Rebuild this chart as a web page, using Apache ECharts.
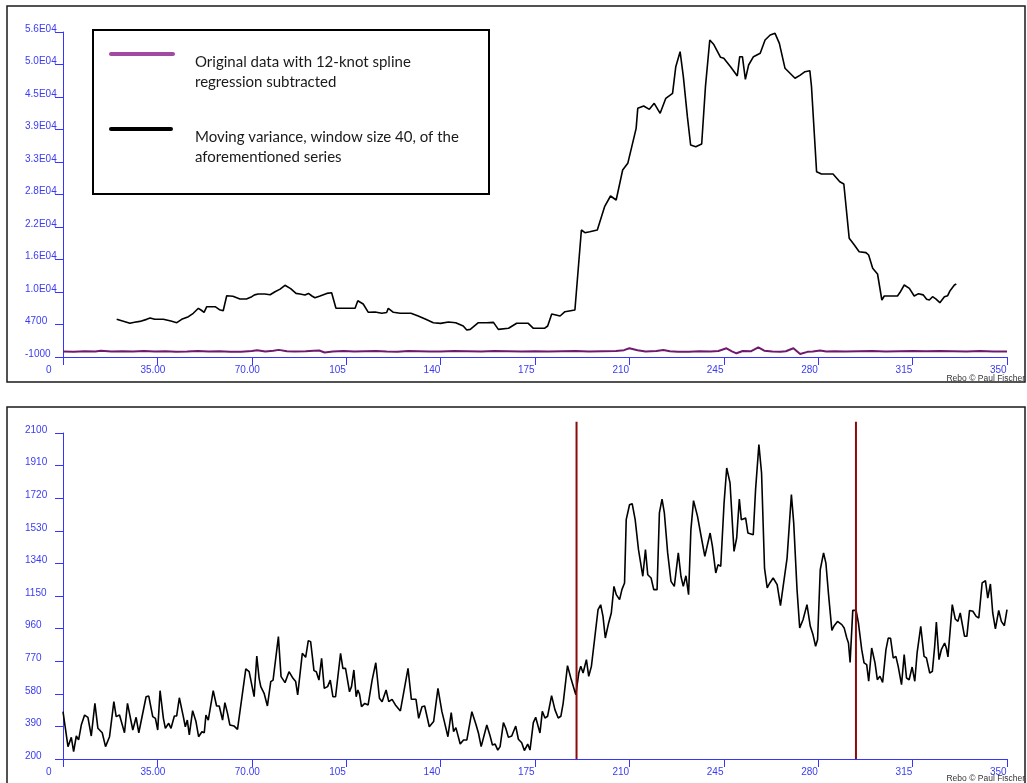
<!DOCTYPE html>
<html><head><meta charset="utf-8">
<script src="https://cdn.jsdelivr.net/npm/echarts@6/dist/echarts.min.js"></script>
<style>html,body{margin:0;padding:0;background:#fff}#c{width:1027px;height:783px}</style>
</head><body><div id="c"></div>
<script>
// ---- tick labels ----
const xTickLabels = ['0','35.00','70.00','105','140','175','210','245','280','315','350'];
const topYTickLabels = ['-1000','4700','1.0E04','1.6E04','2.2E04','2.8E04','3.3E04','3.9E04','4.5E04','5.0E04','5.6E04'];
const bottomYTickLabels = ['200','390','580','770','960','1150','1340','1530','1720','1910','2100'];

// ---- top chart: residual series (original data with 12-knot spline regression subtracted) ----
const resX = [0,4,8,12,14,18,22,26,30,34,38,42,46,50,54,58,62,66,70,72,75,78,80,83,86,90,93,95,97,100,104,108,112,116,120,124,128,132,136,140,145,150,155,160,165,170,175,180,185,190,195,200,205,208,210,213,216,220,222.6,225,228,232,236,240,243,246,248,249.7,252,255,257.8,260,263,266,268,270.8,273.3,276,278,280.7,283,286,290,295,300,305,310,315,320,325,330,335,340,345,350];
const resY = [-50,-100,0,-50,100,-50,0,-50,50,-50,0,-100,-50,50,-50,0,-100,-100,50,200,-50,100,250,0,-50,0,100,150,-200,-50,50,-50,0,50,-50,-100,50,0,-50,-50,50,0,-50,50,0,-50,0,-50,0,50,-50,0,50,200,526,200,-50,50,228,0,-100,-100,0,-50,50,526,0,-350,50,0,700,100,-50,-100,0,526,-474,-100,-50,150,-50,0,-50,0,50,-50,0,50,0,50,0,-50,50,-50,-50];

// ---- top chart: moving variance, window 40 ----
const varX = [19.9,23,24.8,26.5,28.5,31,32.3,34,37.2,40,42.2,44,46.5,48.3,50.2,51.3,52.3,53.3,56.4,58,59.4,60.7,63,65.6,68,70,71,72.4,74.8,76.8,78.6,80.5,82.3,84.4,86.4,87.9,89.7,91,92.3,93.4,95.3,97.8,99.6,101.2,108.3,109.3,111.3,113.2,115.7,118.2,120,120.6,122.5,125,129,131.7,134.5,137.3,140,142.9,145.6,148.4,149.7,151,154,157,159.6,161.4,165.2,168.2,172.5,174.4,178.5,179.7,181.2,184.3,186.1,189.8,192.2,193.5,195.3,198.1,200.8,203,205.1,207.5,209.4,212.5,213.1,215.3,217.4,219.2,221.4,223.5,226,227.2,228.8,230,231.5,232.7,234.6,236.8,238.2,239.8,241.3,243.8,245,247.5,250,250.9,251.9,253,254.2,256,258.5,260.3,262.2,264,265.6,267.7,271.4,273.2,275.1,276.9,277.5,279.4,281.2,285.5,288,289.5,291.5,293.4,295.2,297.7,298.7,300.2,302,303.6,304.5,309.4,310.3,311.9,313.8,315.6,317.2,318.9,320.2,321.2,322.4,323.6,325.1,326.8,328,328.9,330.5,331.2];
const varY = [5612,5191,4910,5100,5244,5600,5840,5612,5612,5300,5016,5612,6068,6664,7541,7200,6839,7822,7822,7300,7120,9751,9650,9172,9172,9576,9900,10049,10049,9927,10452,10900,11575,11000,10154,10049,9874,10154,9700,9400,9700,10154,10277,7541,7541,8874,8300,6839,6900,6664,6800,7541,6839,6664,6664,6191,5612,5016,4900,5139,5016,4437,3735,3840,5016,5016,5068,3840,4033,4910,4910,4033,4033,4437,6542,6191,6946,7243,21273,20800,20980,21273,25362,27236,26535,31796,32966,39105,42613,43020,42438,43490,41737,44369,45246,49920,52550,48166,41152,36181,35888,36357,46414,54596,53800,51564,51400,49920,48283,51670,51670,47703,50213,51670,52263,54596,55473,55770,54016,49633,47880,48400,49036,49212,46500,31497,31094,31094,29744,29341,19817,18642,17473,17300,16888,14556,13556,8996,9698,9698,10300,11627,11042,9698,10107,9900,9120,9000,9575,9200,8523,9575,9750,10628,11627,11800];

// ---- bottom chart: original series ----
const dataX = [0,1.85,3.08,3.94,4.93,5.79,6.78,8.01,9.24,10.48,11.09,11.83,12.94,14.54,15.77,17.25,18.86,19.72,20.95,22.8,23.91,25.88,27.11,28.1,30.81,31.8,33.27,34.26,35.12,35.99,37.22,37.96,39.19,40.05,41.29,42.15,43.13,44.61,45.35,46.09,46.83,48.06,49.3,50.28,51.51,52.38,52.99,53.86,55.7,56.94,57.92,59.16,60.02,61,61.87,63.47,64.7,67.78,69.01,70.86,71.85,72.71,73.33,74.56,75.79,77.03,77.89,79.86,80.85,82.32,83.8,85.28,86.27,87.01,87.75,88.73,89.97,90.95,91.81,93.05,93.91,94.89,95.88,96.87,98.1,99.09,100.07,101.06,102.91,103.77,104.75,106.23,106.97,107.84,108.7,109.31,109.93,110.67,111.9,113.13,114.61,115.97,117.32,118.31,119.79,120.78,122.01,123.24,125.09,127.92,129.16,130.88,131.87,133.1,134.09,135.81,137.41,139.02,140.49,141.48,142.71,143.94,144.81,145.67,147.27,148.5,149.74,151.59,153.06,154.05,155.04,157.13,158.36,159.22,160.21,161.2,162.06,163.29,164.16,165.14,166.37,167.85,168.84,170.07,171.06,172.29,173.15,174.38,175.25,
175.98,176.84,177.71,178.69,179.67,181.15,182.38,183.61,184.59,185.45,187.05,188.28,190.13,191.23,191.97,192.83,194.06,194.92,195.91,197.14,198.37,199.35,200.21,201.07,202.3,203.29,204.27,205.13,206.36,207.22,208.2,208.82,210.05,211.03,212.14,213.37,214.97,215.95,216.81,218.04,219.03,220.26,221.12,222.1,222.96,224.19,225.42,226.65,228.13,229.11,229.97,230.96,231.94,232.8,233.78,235.26,236.49,237.97,239.93,240.79,242.02,242.88,243.87,245.1,246.08,247.31,248.79,249.77,250.76,251.49,252.23,253.09,253.95,255.92,256.78,258.01,259,260.1,261.09,262.07,263.3,264.78,266.01,266.74,268.46,270.06,270.92,272.15,273.14,274.37,274.98,275.84,277.07,278.06,279.04,279.78,280.76,281.99,282.85,283.84,285.07,285.93,287.16,288.76,289.62,290.6,291.22,291.83,292.82,294.05,294.91,296.14,297,297.98,298.72,299.83,301.06,301.92,302.9,303.89,305.12,305.97,306.83,307.82,308.8,309.66,310.89,311.88,312.74,313.72,314.83,315.81,316.67,318.02,319.25,320.12,321.35,322.33,323.19,323.81,324.79,325.65,326.88,327.5,328.11,329.71,330.82,331.8,332.66,334.26,335.12,336.11,337.34,338.57,339.55,340.78,342.01,342.87,343.85,344.71,345.7,346.93,347.91,349.02,350];
const dataY = [476,272,326,243,334,311,398,456,443,334,326,524,379,353,272,330,534,447,456,353,524,369,443,353,563,567,447,437,369,598,437,379,408,379,451,451,557,447,388,427,340,482,418,330,359,353,456,427,598,509,509,427,528,466,398,392,373,725,709,563,800,670,622,583,509,651,660,913,680,645,709,670,651,573,583,816,793,890,884,715,709,660,787,612,622,660,563,563,816,728,728,592,622,719,563,602,579,505,524,515,660,761,554,534,602,534,548,515,480,728,548,548,437,505,509,388,418,612,476,412,330,470,359,383,287,311,311,476,404,350,272,398,334,282,287,252,272,412,379,326,334,392,315,295,249,287,252,412,443,
449,352,478,439,449,569,488,439,449,526,744,672,575,701,740,701,779,682,740,905,1070,1099,1031,905,993,1051,1206,1158,1129,1187,1226,1595,1682,1688,1595,1420,1265,1420,1274,1255,1187,1187,1634,1715,1634,1401,1235,1206,1401,1265,1206,1268,1158,1537,1706,1614,1507,1381,1517,1439,1284,1333,1323,1692,1896,1809,1410,1488,1715,1595,1599,1605,1517,1507,1770,2032,1867,1313,1197,1226,1255,1216,1094,1090,1371,1741,1576,1187,964,1012,1002,1100,973,925,857,896,1303,1401,1342,1158,950,977,1002,983,964,905,876,763,1066,1066,993,837,760,750,653,847,760,662,682,647,837,905,903,789,798,740,633,808,672,662,736,653,818,973,798,789,701,711,857,998,779,837,876,847,795,1100,1016,1002,1051,915,915,1066,1061,1031,1022,1226,1239,1138,1220,1051,958,1066,1002,977,1070];

// ---- bottom chart: change points (vertical markers) ----
const changeX = [190.4, 294.0];
const changeYRange = [200, 2165];

const legendNames = ['Original data with 12-knot spline\nregression subtracted', 'Moving variance, window size 40, of the\naforementioned series'];

const zip = (xs, ys) => xs.map((x, i) => [x, ys[i]]);

const AX = '#3535ff', LB = '#3b3bf2', FONT = 'Liberation Sans';

function yAxisCfg(grid, min, max, interval, labels) {
  return {
    gridIndex: grid, type: 'value', min: min, max: max, interval: interval,
    axisLine: { show: true, onZero: false, lineStyle: { color: AX, width: 1 } },
    axisTick: { show: true, length: 8, lineStyle: { color: AX, width: 1 } },
    splitLine: { show: false },
    axisLabel: {
      align: 'left', margin: 38, verticalAlign: 'bottom', lineHeight: 6,
      color: LB, fontFamily: FONT, fontSize: 10, showMinLabel: true, showMaxLabel: true,
      formatter: v => labels[Math.round((v - min) / interval)]
    }
  };
}
function xAxisMain(grid) {
  return {
    gridIndex: grid, type: 'value', min: 0, max: 350, interval: 35, position: 'bottom',
    axisLine: { show: true, onZero: false, lineStyle: { color: AX, width: 1 } },
    axisTick: { show: true, length: 8, lineStyle: { color: AX, width: 1 } },
    splitLine: { show: false }, axisLabel: { show: false }
  };
}
// label-only axis on a grid shifted 17px left (reference labels start left of each tick)
function xAxisLabels(grid) {
  return {
    gridIndex: grid, type: 'value', min: 0, max: 350, interval: 35, position: 'bottom',
    axisLine: { show: false, onZero: false }, axisTick: { show: false }, splitLine: { show: false },
    axisLabel: {
      align: 'left', margin: 8, color: LB, fontFamily: FONT, fontSize: 10,
      showMinLabel: true, showMaxLabel: true,
      formatter: v => xTickLabels[Math.round(v / 35)]
    }
  };
}

const chart = echarts.init(document.getElementById('c'), null, { renderer: 'canvas' });
const legendText = (t, x, y) => ({ type: 'text', style: { x: x, y: y, text: t, fill: '#1a1a1a', font: '15px Lato', verticalAlign: 'middle' }, z: 102 });

chart.setOption({
  animation: false,
  backgroundColor: '#fff',
  grid: [
    { left: 63, top: 32, width: 944, height: 325 },
    { left: 63, top: 433, width: 944, height: 326 },
    { left: 46, top: 32, width: 944, height: 325 },
    { left: 46, top: 433, width: 944, height: 326 }
  ],
  xAxis: [xAxisMain(0), xAxisMain(1), xAxisLabels(2), xAxisLabels(3)],
  yAxis: [
    yAxisCfg(0, -1000, 56000, 5700, topYTickLabels),
    yAxisCfg(1, 200, 2100, 190, bottomYTickLabels),
    { gridIndex: 2, type: 'value', show: false, min: 0, max: 1 },
    { gridIndex: 3, type: 'value', show: false, min: 0, max: 1 }
  ],
  series: [
    { name: legendNames[0], type: 'line', xAxisIndex: 0, yAxisIndex: 0, data: zip(resX, resY), showSymbol: false, silent: true,
      lineStyle: { color: '#701a6e', width: 2 } },
    { name: legendNames[1], type: 'line', xAxisIndex: 0, yAxisIndex: 0, data: zip(varX, varY), showSymbol: false, silent: true,
      lineStyle: { color: '#000', width: 1.6 } },
    { name: 'series', type: 'line', xAxisIndex: 1, yAxisIndex: 1, data: zip(dataX, dataY), showSymbol: false, silent: true,
      lineStyle: { color: '#000', width: 1.6 } },
    ...changeX.map(cx => ({
      type: 'line', xAxisIndex: 1, yAxisIndex: 1, clip: false, showSymbol: false, silent: true,
      data: changeYRange.map(y => [cx, y]), lineStyle: { color: '#8c0a0a', width: 2 }
    }))
  ],
  graphic: [
    { type: 'rect', shape: { x: 7, y: 6, width: 1018, height: 376 }, style: { fill: 'none', stroke: '#1a1a1a', lineWidth: 1.5 }, z: 100, silent: true },
    { type: 'rect', shape: { x: 7, y: 407, width: 1018, height: 420 }, style: { fill: 'none', stroke: '#1a1a1a', lineWidth: 1.5 }, z: 100, silent: true },
    { type: 'rect', shape: { x: 93, y: 30, width: 396, height: 164 }, style: { fill: '#fff', stroke: '#000', lineWidth: 2 }, z: 100, silent: true },
    { type: 'line', shape: { x1: 111, y1: 54, x2: 173, y2: 54 }, style: { stroke: '#a04aa2', lineWidth: 4, lineCap: 'round' }, z: 101 },
    { type: 'line', shape: { x1: 111, y1: 129, x2: 171, y2: 129 }, style: { stroke: '#000', lineWidth: 4, lineCap: 'round' }, z: 101 },
    legendText('Original data with 12-knot spline', 195, 62),
    legendText('regression subtracted', 195, 82),
    legendText('Moving variance, window size 40, of the', 195, 137),
    legendText('aforementioned series', 195, 157),
    { type: 'text', style: { x: 1025, y: 379, text: 'Rebo \u00a9 Paul Fischer', fill: '#333', font: '8.5px "Liberation Sans"', align: 'right', verticalAlign: 'middle' }, z: 102 },
    { type: 'text', style: { x: 1025, y: 779, text: 'Rebo \u00a9 Paul Fischer', fill: '#333', font: '8.5px "Liberation Sans"', align: 'right', verticalAlign: 'middle' }, z: 102 }
  ]
});
</script></body></html>
